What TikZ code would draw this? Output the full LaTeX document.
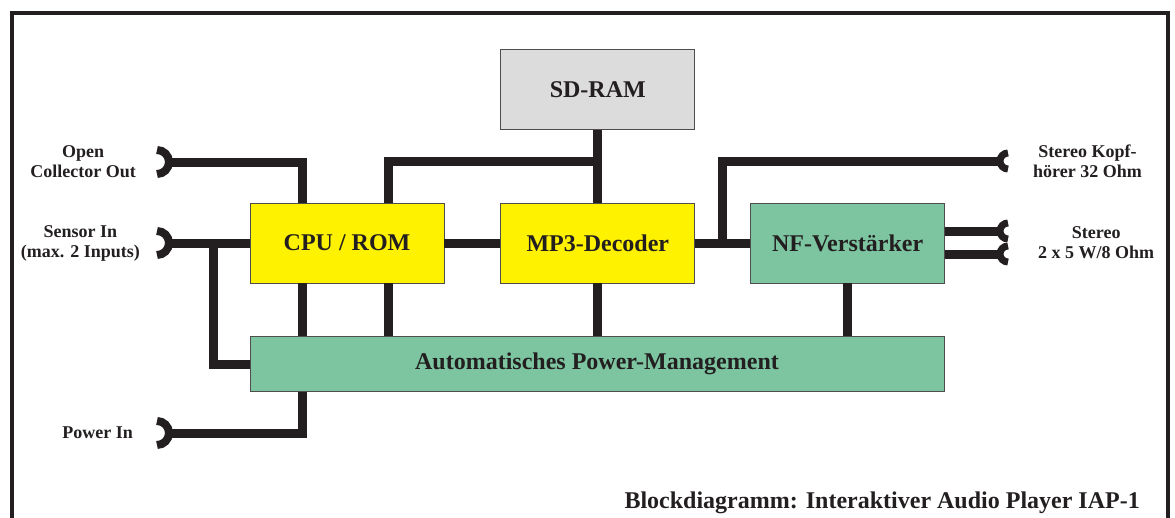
\documentclass[tikz,border=0pt]{standalone}
\usepackage{fontspec}
\setmainfont{Liberation Serif}
\usepackage{tikz}
\usetikzlibrary{positioning,calc}

\definecolor{ink}{HTML}{231F20}
\definecolor{cpuyellow}{HTML}{FFF200}
\definecolor{nfgreen}{HTML}{7CC5A0}
\definecolor{ramgrey}{HTML}{DCDCDC}

\begin{document}
\begin{tikzpicture}[
  x = 1pt,
  y = 1pt,
  block/.style = {
    draw = ink!80,
    line width = 0.8pt,
    text = ink,
    font = \fontsize{24}{28}\selectfont\bfseries,
    minimum width = 194pt,
    minimum height = 80pt,
    inner sep = 0pt,
  },
  lbl/.style = {
    text = ink,
    align = center,
    inner sep = 0pt,
    font = \fontsize{18}{20}\selectfont\bfseries,
  },
  wire/.style = {draw = ink, line width = 9pt},
  jack/.style = {draw = ink, line width = 8pt},
]

  \useasboundingbox (0,0) rectangle (1175,-517);
  \draw[ink, line width = 4pt] (12,-540) |- (1168,-13) -- (1168,-540);

  \node[block, fill = cpuyellow] (cpu) at (347,-243) {CPU / ROM};
  \node[block, fill = cpuyellow] (mp3) [right=56pt of cpu] {MP3-Decoder};
  \node[block, fill = nfgreen] (nf) [right=55pt of mp3] {NF-Verst\"arker};
  \node[block, fill = ramgrey] (sdram) [above=73pt of mp3] {SD-RAM};
  \node[block, fill = nfgreen, minimum width = 694pt, minimum height = 55pt]
    (pm) at (597,-364) {Automatisches Power-Management};

  \coordinate (jOC) at (157,-162);
  \coordinate (jSens) at (157,-243);
  \coordinate (jPow) at (157,-433);
  \coordinate (jHP) at (1008,-161);
  \coordinate (jSpkA) at (1008,-231);
  \coordinate (jSpkB) at (1008,-254);
  \coordinate (spkmid) at ($(jSpkA)!0.5!(jSpkB)$);

  \foreach \j in {jOC,jSens,jPow}
    \draw[jack] ([yshift=12pt]\j) arc[start angle=90, end angle=-90, radius=12pt];
  \foreach \j in {jHP,jSpkA,jSpkB}
    \draw[jack, line width = 7pt] ([yshift=8pt]\j) arc[start angle=90, end angle=270, radius=8pt];

  \draw[wire] ([xshift=12pt]jOC) -| ([xshift=53pt]cpu.north west);
  \draw[wire] ([xshift=12pt]jSens) -- (cpu.west);
  \coordinate (sbr) at ([xshift=56pt]jSens);
  \draw[wire] (sbr) |- (pm.west);
  \draw[wire] ([xshift=12pt]jPow) -| ([xshift=53pt]pm.south west);
  \draw[wire] ([xshift=53pt]cpu.south west) -- ([xshift=53pt]pm.north west);
  \draw[wire] ([xshift=139pt]cpu.south west) -- ([xshift=139pt]pm.north west);

  \coordinate (ramtap) at ([yshift=-32pt]sdram.south);
  \draw[wire] ([xshift=139pt]cpu.north west) |- (ramtap);
  \draw[wire] (sdram.south) -- (mp3.north);
  \draw[wire] (cpu.east) -- (mp3.west);
  \draw[wire] (mp3.east) -- (nf.west);
  \coordinate (hptap) at ($(mp3.east)!0.5!(nf.west)$);
  \draw[wire] (hptap) |- ([xshift=-8pt]jHP);
  \draw[wire] (mp3.south) -- (mp3.south |- pm.north);
  \draw[wire] (nf.south) -- (nf.south |- pm.north);
  \draw[wire] (nf.east |- jSpkA) -- ([xshift=-8pt]jSpkA);
  \draw[wire] (nf.east |- jSpkB) -- ([xshift=-8pt]jSpkB);

  \node[lbl] (lOC) [left=21pt of jOC] {Open\\Collector Out};
  \node[lbl] (lSens) [left=17pt of jSens] {Sensor In\\(max. 2 Inputs)};
  \node[lbl] (lPow) [left=24pt of jPow] {Power In};
  \node[lbl] (lHP) [right=25pt of jHP] {Stereo Kopf-\\h\"orer 32 Ohm};
  \node[lbl] (lSpk) [right=30pt of spkmid] {Stereo\\2 x 5 W/8 Ohm};

  \node[text = ink, inner sep = 0pt, anchor = base east,
    font = \fontsize{24}{28}\selectfont\bfseries]
    (title) at (1140,-508) {Blockdiagramm: Interaktiver Audio Player IAP-1};

\end{tikzpicture}
\end{document}
